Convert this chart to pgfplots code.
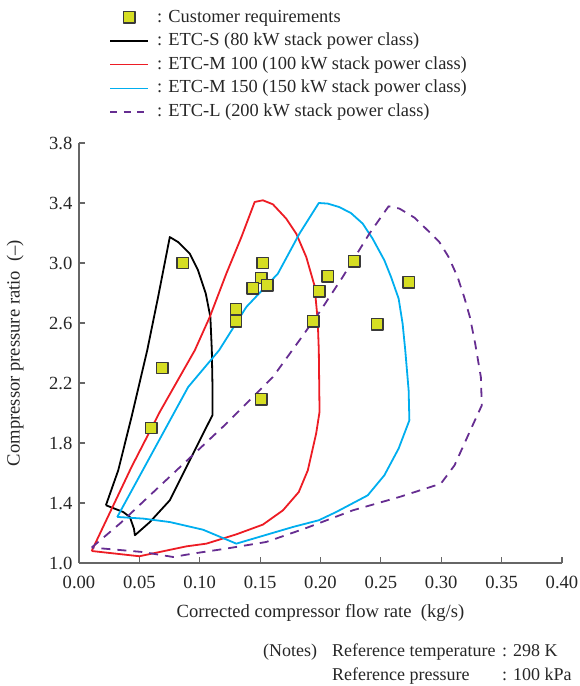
\documentclass[border=0pt]{standalone}
\usepackage{pgfplots}
\pgfplotsset{compat=1.18}
\usepackage{fontspec}
\setmainfont{Liberation Serif}
\definecolor{cred}{HTML}{ED1C24}
\definecolor{ccyan}{HTML}{00AEEF}
\definecolor{cpurple}{HTML}{662D91}
\definecolor{cyel}{HTML}{D6DE23}
\definecolor{cedge}{HTML}{3A3A3A}
\definecolor{caxis}{HTML}{666666}
\pgfplotsset{marklegend/.style={legend image code/.code={\draw[##1] plot coordinates {(9.5pt,0pt)};}},
  dashlegend/.style={legend image code/.code={\draw[##1, line width=0.9pt, dash pattern=on 3.6pt off 3.1pt] (0pt,0pt) -- (19pt,0pt);}}}
\begin{document}
\fontsize{9.3}{11}\selectfont
\begin{tikzpicture}
\useasboundingbox (-39.5pt,-61.5pt) rectangle (250pt,281.5pt);
\begin{axis}[
  scale only axis, width=241.5pt, height=210pt,
  xmin=0, xmax=0.4, ymin=1.0, ymax=3.8,
  axis x line*=bottom, axis y line*=left,
  axis line style={caxis, line width=0.6pt},
  tick align=inside,
  tick style={caxis, line width=0.6pt}, major tick length=3pt,
  xtick={0,0.05,0.1,0.15,0.2,0.25,0.3,0.35,0.4},
  ytick={1.0,1.4,1.8,2.2,2.6,3.0,3.4,3.8},
  /pgf/number format/assume math mode=true,
  xticklabel style={/pgf/number format/fixed, /pgf/number format/fixed zerofill, /pgf/number format/precision=2, yshift=-3.5pt, text=black!85},
  yticklabel style={/pgf/number format/fixed, /pgf/number format/fixed zerofill, /pgf/number format/precision=1, text=black!85},
  xlabel={Corrected compressor flow rate\ \ (kg/s)},
  ylabel={Compressor pressure ratio\ \ (--)},
  every axis x label/.style={at={(axis description cs:0.5,-0.119)}, anchor=center, text=black!85},
  every axis y label/.style={at={(axis description cs:-0.132,0.5)}, rotate=90, anchor=center, text=black!85},
  legend style={draw=none, fill=none, inner sep=0pt, at={(axis description cs:0.0621,1.3214)}, anchor=north west,
    font=\fontsize{9.2}{11}\selectfont, row sep=2.9pt, column sep=4pt,
    nodes={inner sep=0pt, text height=6.8pt, text depth=2.1pt, text=black!85}},
  legend cell align=left,
  legend image code/.code={\draw[#1, line width=0.6pt] (0pt,0pt) -- (19pt,0pt);},
  line join=round,
]
\addlegendimage{only marks, mark=square*, mark size=2.85pt, mark options={fill=cyel, draw=cedge, line width=0.7pt}, marklegend}
\addlegendentry{: Customer requirements}

\addplot[black, line width=0.9pt] coordinates {
(0.0223,1.385) (0.0325,1.618) (0.0435,1.973) (0.0565,2.418) (0.0655,2.773) (0.0752,3.173)
(0.082,3.14) (0.0917,3.063) (0.0986,2.951) (0.105,2.796) (0.1088,2.64) (0.110,2.418)
(0.1105,2.2) (0.1105,1.985) (0.100,1.818) (0.0904,1.663) (0.0752,1.418) (0.0587,1.273)
(0.0463,1.185) (0.0455,1.229) (0.0421,1.307) (0.0366,1.34) (0.0223,1.385)};
\addlegendentry{: ETC-S (80 kW stack power class)}

\addplot[cred, line width=0.9pt] coordinates {
(0.0105,1.08) (0.0435,1.64) (0.0669,2.007) (0.0959,2.418) (0.1083,2.64) (0.122,2.929)
(0.1345,3.173) (0.1455,3.407) (0.1523,3.418) (0.1606,3.391) (0.1716,3.296) (0.1799,3.196)
(0.1882,3.04) (0.195,2.85) (0.1977,2.618) (0.1986,2.418) (0.1992,2.007) (0.1964,1.863)
(0.1895,1.618) (0.182,1.473) (0.1689,1.351) (0.1523,1.256) (0.1303,1.191) (0.1055,1.129)
(0.089,1.111) (0.050,1.045) (0.0105,1.08)};
\addlegendentry{: ETC-M 100 (100 kW stack power class)}

\addplot[ccyan, line width=0.9pt] coordinates {
(0.0317,1.307) (0.0904,2.173) (0.116,2.418) (0.1386,2.707) (0.1647,2.929) (0.1826,3.196)
(0.1986,3.40) (0.206,3.396) (0.2155,3.373) (0.2252,3.333) (0.2349,3.263) (0.2431,3.163)
(0.2529,3.018) (0.2584,2.907) (0.2647,2.763) (0.268,2.596) (0.2702,2.418) (0.273,2.151)
(0.2736,1.951) (0.2647,1.763) (0.2529,1.585) (0.2391,1.451) (0.213,1.34) (0.1986,1.285)
(0.1771,1.24) (0.1303,1.129) (0.1027,1.222) (0.0752,1.273) (0.0531,1.296) (0.0317,1.307)};
\addlegendentry{: ETC-M 150 (150 kW stack power class)}

\addplot[cpurple, line width=0.9pt, dash pattern=on 4.5pt off 3.5pt, dashlegend] coordinates {
(0.0105,1.103) (0.0339,1.263) (0.0779,1.596) (0.122,1.929) (0.1606,2.24) (0.1826,2.485)
(0.1992,2.673) (0.2184,2.907) (0.2405,3.196) (0.2564,3.378) (0.2653,3.363) (0.2777,3.303)
(0.2873,3.229) (0.2984,3.14) (0.3061,3.04) (0.3135,2.907) (0.319,2.773) (0.3237,2.64)
(0.3281,2.463) (0.3328,2.24) (0.3336,2.051) (0.326,1.918) (0.311,1.651) (0.2997,1.529)
(0.2653,1.44) (0.2267,1.351) (0.1868,1.229) (0.155,1.14) (0.122,1.096) (0.0945,1.063)
(0.0779,1.04) (0.0531,1.073) (0.0105,1.103)};
\addlegendentry{: ETC-L (200 kW stack power class)}

\addplot[only marks, mark=square*, mark size=2.85pt, mark options={fill=cyel, draw=cedge, line width=0.7pt}, forget plot] coordinates {
(0.086,3.0) (0.152,3.0) (0.151,2.9) (0.144,2.83) (0.156,2.85) (0.130,2.69) (0.130,2.61)
(0.194,2.61) (0.199,2.81) (0.228,3.01) (0.206,2.91) (0.273,2.87) (0.247,2.59)
(0.069,2.30) (0.060,1.90) (0.151,2.09)};
\end{axis}
\begin{scope}[every node/.style={anchor=base west, inner sep=0pt, font=\fontsize{9}{11}\selectfont, text=black!85}]
\node at (91.85pt,-47pt) {(Notes)};
\node at (126.35pt,-47pt) {Reference temperature};
\node at (211.35pt,-47pt) {: 298 K};
\node at (126.35pt,-59pt) {Reference pressure};
\node at (211.35pt,-59pt) {: 100 kPa};
\end{scope}
\end{tikzpicture}
\end{document}
